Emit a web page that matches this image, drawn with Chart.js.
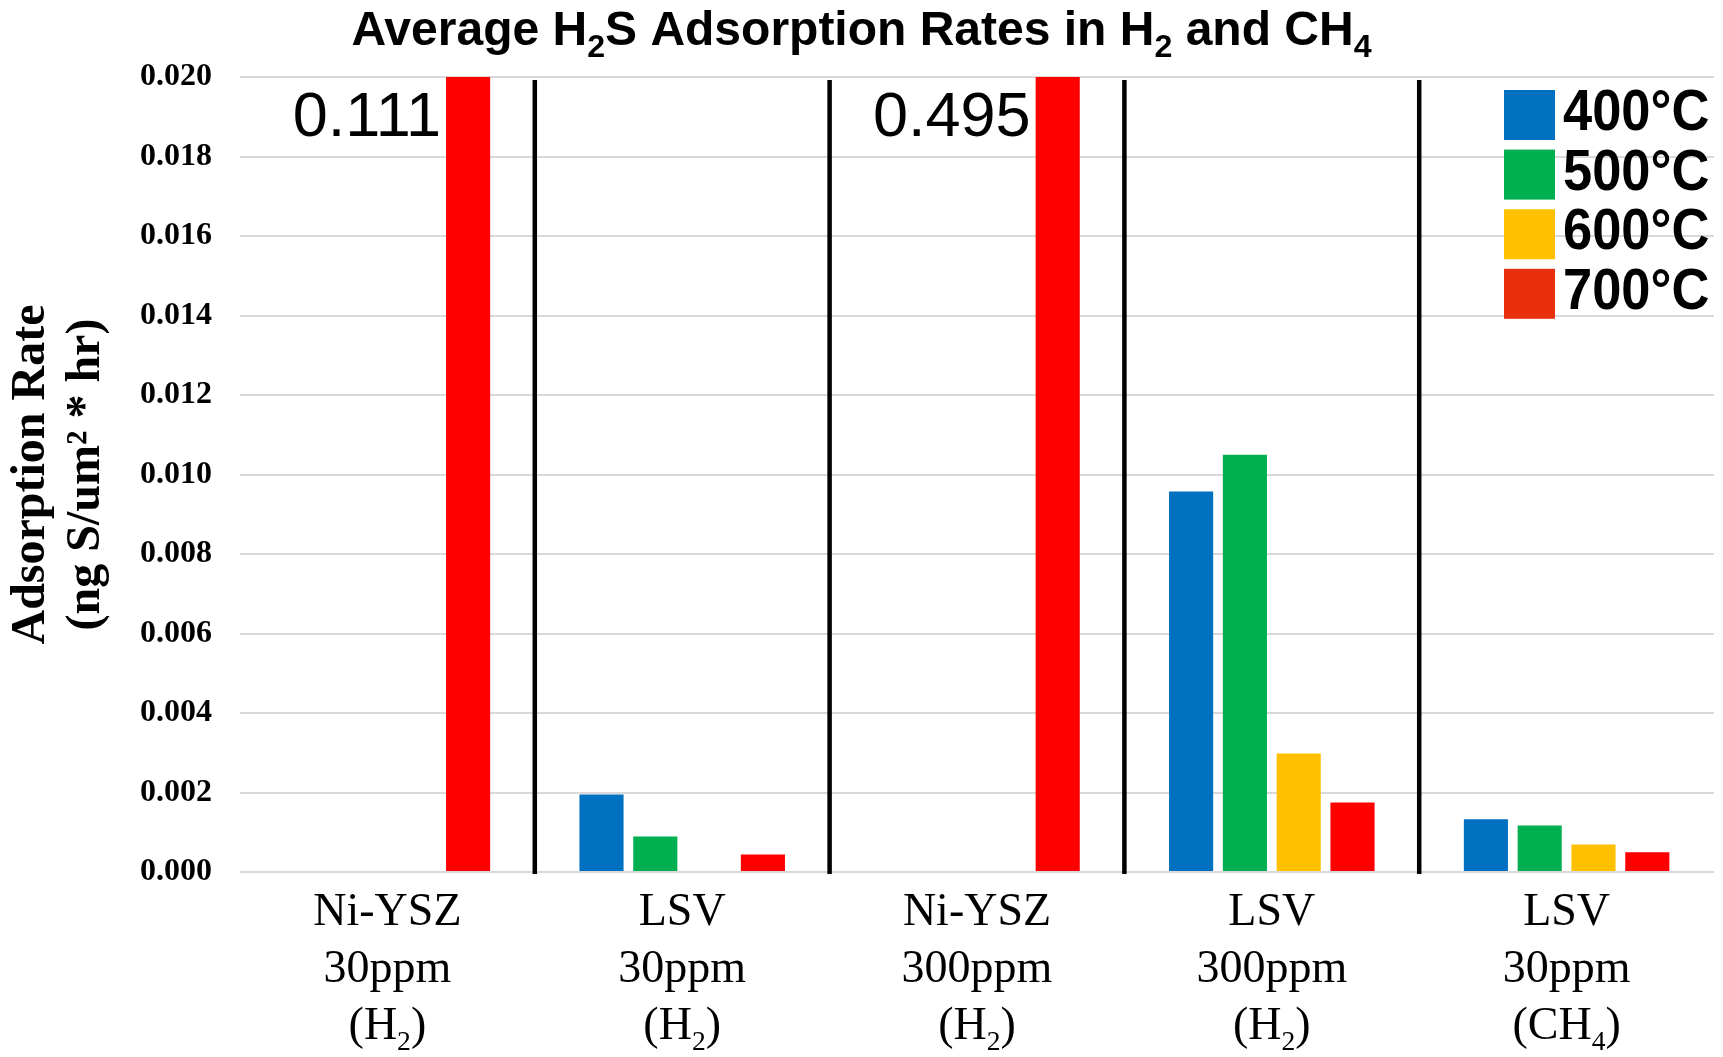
<!DOCTYPE html>
<html>
<head>
<meta charset="utf-8">
<script src="https://cdn.jsdelivr.net/npm/chart.js"></script>
<style>
  html, body { margin: 0; padding: 0; background: #fff; }
  #wrap { width: 1723px; height: 1057px; }
</style>
</head>
<body>
<div id="wrap"><canvas id="myChart"></canvas></div>

<script>
    // Grupos del eje x (una línea por elemento, "_n" = subíndice)
    var categories = [
        ['Ni-YSZ', '30ppm', '(H_2)'],
        ['LSV', '30ppm', '(H_2)'],
        ['Ni-YSZ', '300ppm', '(H_2)'],
        ['LSV', '300ppm', '(H_2)'],
        ['LSV', '30ppm', '(CH_4)']
    ];
    var temps = ['400°C', '500°C', '600°C', '700°C'];

    // Velocidad media de adsorción (ng S/um² * hr)
    var rate400 = [0, 0.00195, 0, 0.00957, 0.00133];
    var rate500 = [0, 0.00089, 0, 0.01050, 0.00117];
    var rate600 = [0, 0, 0, 0.00298, 0.00069];
    var rate700 = [0.111, 0.00044, 0.495, 0.00175, 0.00050];

    // Eje y
    var yMin = 0;
    var yMax = 0.020;
    var yStep = 0.002;

    var barColors = ['#0070C0', '#00B050', '#FFC000', '#FF0000'];
    var legendColors = ['#0070C0', '#00B050', '#FFC000', '#E9300E'];

    var chartTitle = 'Average H_2S Adsorption Rates in H_2 and CH_4';
    var yTitle = ['Adsorption Rate', '(ng S/um² * hr)'];

    // Texto con subíndices: "H_2S" -> [['H',false],['2',true],['S',false]]
    function parseRich(str) {
        var parts = [], re = /_(\d)/g, last = 0, m;
        while ((m = re.exec(str))) {
            if (m.index > last) parts.push([str.slice(last, m.index), false]);
            parts.push([m[1], true]);
            last = re.lastIndex;
        }
        if (last < str.length) parts.push([str.slice(last), false]);
        return parts;
    }

    function drawRich(c, str, x, y, size, family, weight, subScale, subDrop) {
        var parts = parseRich(str);
        var fonts = parts.map(function (p) {
            return weight + ' ' + (p[1] ? size * subScale : size) + 'px ' + family;
        });
        var widths = parts.map(function (p, i) {
            c.font = fonts[i];
            return c.measureText(p[0]).width;
        });
        var cx = x - widths.reduce(function (a, b) { return a + b; }, 0) / 2;
        c.textAlign = 'left';
        c.textBaseline = 'alphabetic';
        parts.forEach(function (p, i) {
            c.font = fonts[i];
            c.fillText(p[0], cx, y + (p[1] ? size * subDrop : 0));
            cx += widths[i];
        });
    }

    var decorations = {
        id: 'decorations',
        afterDatasetsDraw: function (chart) {
            var c = chart.ctx, area = chart.chartArea, xs = chart.scales.x, ys = chart.scales.y;
            c.save();

            // líneas negras entre grupos
            c.strokeStyle = '#000';
            c.lineWidth = 4.5;
            for (var k = 0; k < categories.length - 1; k++) {
                var xd = (xs.getPixelForValue(k) + xs.getPixelForValue(k + 1)) / 2;
                c.beginPath();
                c.moveTo(xd, area.top + 3);
                c.lineTo(xd, area.bottom + 2);
                c.stroke();
            }

            // valor escrito junto a las barras que se salen del eje
            c.fillStyle = '#000';
            c.font = '63px "Liberation Sans"';
            c.textAlign = 'right';
            c.textBaseline = 'alphabetic';
            chart.data.datasets.forEach(function (ds, i) {
                var meta = chart.getDatasetMeta(i);
                ds.data.forEach(function (v, j) {
                    if (v > ys.max) {
                        var bar = meta.data[j];
                        c.fillText(String(v), bar.x - bar.width / 2 - 5, area.top + 59);
                    }
                });
            });
            c.restore();
        },
        afterDraw: function (chart) {
            var c = chart.ctx, area = chart.chartArea, xs = chart.scales.x;
            c.save();
            c.fillStyle = '#000';

            // título
            drawRich(c, chartTitle, chart.width / 2, 45, 48, '"Liberation Sans"', 'bold', 0.67, 0.26);

            // etiquetas del eje x
            categories.forEach(function (lines, i) {
                var x = xs.getPixelForValue(i);
                lines.forEach(function (txt, n) {
                    drawRich(c, txt, x, area.bottom + 53 + n * 57, 46, '"Liberation Serif"', 'normal', 0.6, 0.23);
                });
            });

            // leyenda
            temps.forEach(function (t, i) {
                var top = area.top + 13 + i * 59.6;
                c.fillStyle = legendColors[i];
                c.fillRect(area.right - 210, top, 51, 50);
                c.fillStyle = '#000';
                c.save();
                c.translate(area.right - 151, top + 40);
                c.scale(0.92, 1);
                c.font = 'bold 57px "Liberation Sans"';
                c.textAlign = 'left';
                c.fillText(t, 0, 0);
                c.restore();
            });
            c.restore();
        }
    };

    var datasets = [rate400, rate500, rate600, rate700].map(function (d, i) {
        return {
            label: temps[i],
            data: d,
            backgroundColor: barColors[i],
            borderWidth: 0,
            categoryPercentage: 0.73,
            barPercentage: 0.82
        };
    });

    var ctx = document.getElementById('myChart').getContext('2d');
    var myChart = new Chart(ctx, {
        type: 'bar',
        data: {
            labels: categories.map(function (l) { return l.join(' '); }),
            datasets: datasets
        },
        options: {
            responsive: true,
            maintainAspectRatio: false,
            animation: false,
            layout: { padding: { top: 77, right: 9, left: 0, bottom: 0 } },
            plugins: {
                legend: { display: false },
                title: { display: false },
                tooltip: { enabled: false }
            },
            scales: {
                x: {
                    grid: { display: false },
                    border: { display: false },
                    ticks: { display: false },
                    afterFit: function (s) { s.height = 185; }
                },
                y: {
                    min: yMin,
                    max: yMax,
                    ticks: {
                        stepSize: yStep,
                        padding: 28,
                        color: '#000',
                        font: { family: 'Liberation Serif', size: 32, weight: 'bold' },
                        callback: function (v) { return v.toFixed(3); }
                    },
                    grid: { color: '#d9d9d9', lineWidth: 2, drawTicks: false },
                    border: { display: false },
                    title: {
                        display: true,
                        text: yTitle,
                        color: '#000',
                        font: { family: 'Liberation Serif', size: 48, weight: 'bold', lineHeight: 1.15 },
                        padding: { top: 4, bottom: 0 }
                    },
                    afterFit: function (s) { s.width = 240; }
                }
            }
        },
        plugins: [decorations]
    });
</script>
</body>
</html>
